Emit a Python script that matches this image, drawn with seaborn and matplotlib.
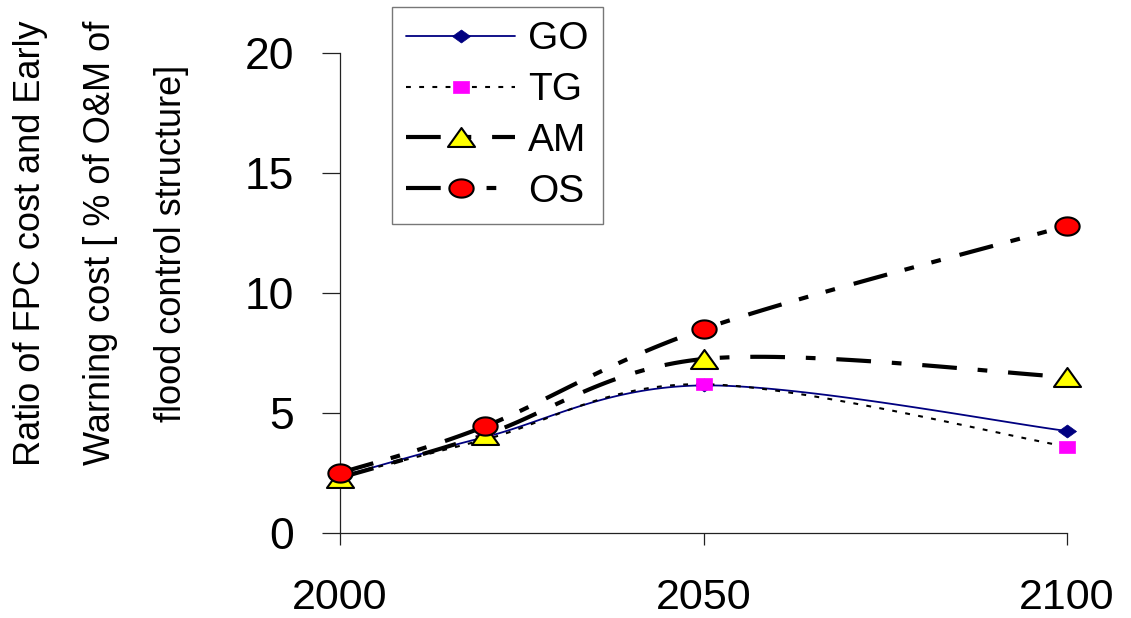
import numpy as np
import seaborn as sns
import matplotlib.pyplot as plt
from matplotlib.path import Path
from matplotlib.lines import Line2D

years = [2000, 2020, 2050, 2100]
go = [2.35, 4.0, 6.15, 4.25]
tg = [2.35, 3.9, 6.2, 3.6]
am = [2.3, 4.1, 7.25, 6.5]
os_vals = [2.5, 4.45, 8.5, 12.8]
series_names = ['GO', 'TG', 'AM', 'OS']
x_ticks = [2000, 2050, 2100]
y_ticks = [0, 5, 10, 15, 20]


def smooth(x, y, n=40):
    # excel-like smoothed line (bezier through the points)
    p = np.column_stack([x, y]).astype(float)
    p = np.vstack([p[0], p, p[-1]])
    out = []
    for i in range(1, len(p) - 2):
        p0, p1, p2, p3 = p[i - 1], p[i], p[i + 1], p[i + 2]
        c1 = p1 + (p2 - p0) / 6
        c2 = p2 - (p3 - p1) / 6
        t = np.linspace(0, 1, n)[:, None]
        seg = (1 - t) ** 3 * p1 + 3 * (1 - t) ** 2 * t * c1 + 3 * (1 - t) * t ** 2 * c2 + t ** 3 * p2
        out.append(seg if i == 1 else seg[1:])
    s = np.vstack(out)
    return s[:, 0], s[:, 1]


def shape(verts):
    verts = list(verts) + [verts[0]]
    codes = [Path.MOVETO] + [Path.LINETO] * (len(verts) - 2) + [Path.CLOSEPOLY]
    return Path(verts, codes)


th = np.linspace(0, 2 * np.pi, 40, endpoint=False)
ellipse = shape([(np.cos(a), 0.75 * np.sin(a)) for a in th])
triangle = shape([(-1, -0.7), (1, -0.7), (0, 0.7)])
diamond = shape([(-1, 0), (0, 0.72), (1, 0), (0, -0.72)])
square = shape([(-1, -0.8), (1, -0.8), (1, 0.8), (-1, 0.8)])

sns.set_theme(style='white')
plt.rcParams['font.family'] = ['Liberation Sans', 'DejaVu Sans']
plt.rcParams['lines.scale_dashes'] = False
plt.rcParams['text.color'] = 'black'
plt.rcParams['xtick.color'] = 'black'
plt.rcParams['ytick.color'] = 'black'

styles = {
    'GO': dict(color='#000080', lw=1.3, ls='-', marker=diamond, ms=13, mfc='#000080', mec='#000080', mew=0.5),
    'TG': dict(color='black', lw=1.5, ls=(0, (3.5, 6)), marker=square, ms=11, mfc='#ff00ff', mec='#ff00ff', mew=0.5),
    'AM': dict(color='black', lw=3, ls=(0, (25, 15, 7, 15)), marker=triangle, ms=19.5, mfc='#ffff00', mec='black', mew=1.5),
    'OS': dict(color='black', lw=3, ls=(0, (25, 13, 7, 13, 7, 14)), marker=ellipse, ms=17.5, mfc='#ff0000', mec='black', mew=1.5),
}
data = {'GO': go, 'TG': tg, 'AM': am, 'OS': os_vals}

fig = plt.figure(figsize=(11.31, 6.18), dpi=100)
ax = fig.add_axes([340 / 1131, 1 - 533 / 618, 727 / 1131, 480 / 618])

for name in series_names:
    st = styles[name]
    sx, sy = smooth(years, data[name])
    sns.lineplot(x=sx, y=sy, ax=ax, sort=False, estimator=None, color=st['color'],
                 linewidth=st['lw'], linestyle=st['ls'], clip_on=False, zorder=2)
for name in series_names:
    st = styles[name]
    ax.plot(years, data[name], linestyle='none', marker=st['marker'], markersize=st['ms'],
            markerfacecolor=st['mfc'], markeredgecolor=st['mec'], markeredgewidth=st['mew'],
            clip_on=False, zorder=3)

ax.set_xlim(2000, 2100)
ax.set_ylim(0, 20)
ax.set_xticks(x_ticks)
ax.set_yticks(y_ticks)
ax.set_xticklabels([str(v) for v in x_ticks], fontsize=31)
ax.set_yticklabels([str(v) for v in y_ticks], fontsize=32)
for side in ['top', 'right']:
    ax.spines[side].set_visible(False)
for side in ['left', 'bottom']:
    ax.spines[side].set_color('#222222')
    ax.spines[side].set_linewidth(0.9)
ax.tick_params(axis='y', direction='out', length=13, width=0.9, color='#222222', pad=20, left=True)
ax.tick_params(axis='x', direction='out', length=8.6, width=0.9, color='#222222', pad=24, bottom=True)
ax.set_xlabel('')
ax.set_ylabel('')

fig.text(101 / 1131, 1 - 243 / 618,
         'Ratio of FPC cost and Early\nWarning cost [ % of O&M of\nflood control structure]',
         rotation=90, ha='center', va='center', multialignment='center', fontsize=26,
         linespacing=2.3, color='black')

handles = []
for name in series_names:
    st = styles[name]
    handles.append(Line2D([], [], color=st['color'], lw=st['lw'], ls=st['ls'], marker=st['marker'],
                          markersize=st['ms'], markerfacecolor=st['mfc'], markeredgecolor=st['mec'],
                          markeredgewidth=st['mew']))
leg = fig.legend(handles, series_names, loc='upper left', bbox_to_anchor=(392 / 1131, 1 - 7 / 618),
                 fontsize=28, frameon=True, fancybox=False, shadow=False, handlelength=2.8,
                 handletextpad=0.33, labelspacing=0.38, borderpad=0.37, borderaxespad=0)
leg.get_frame().set_edgecolor('#555555')
leg.get_frame().set_linewidth(1.0)

fig.savefig('out.png', dpi=100)
